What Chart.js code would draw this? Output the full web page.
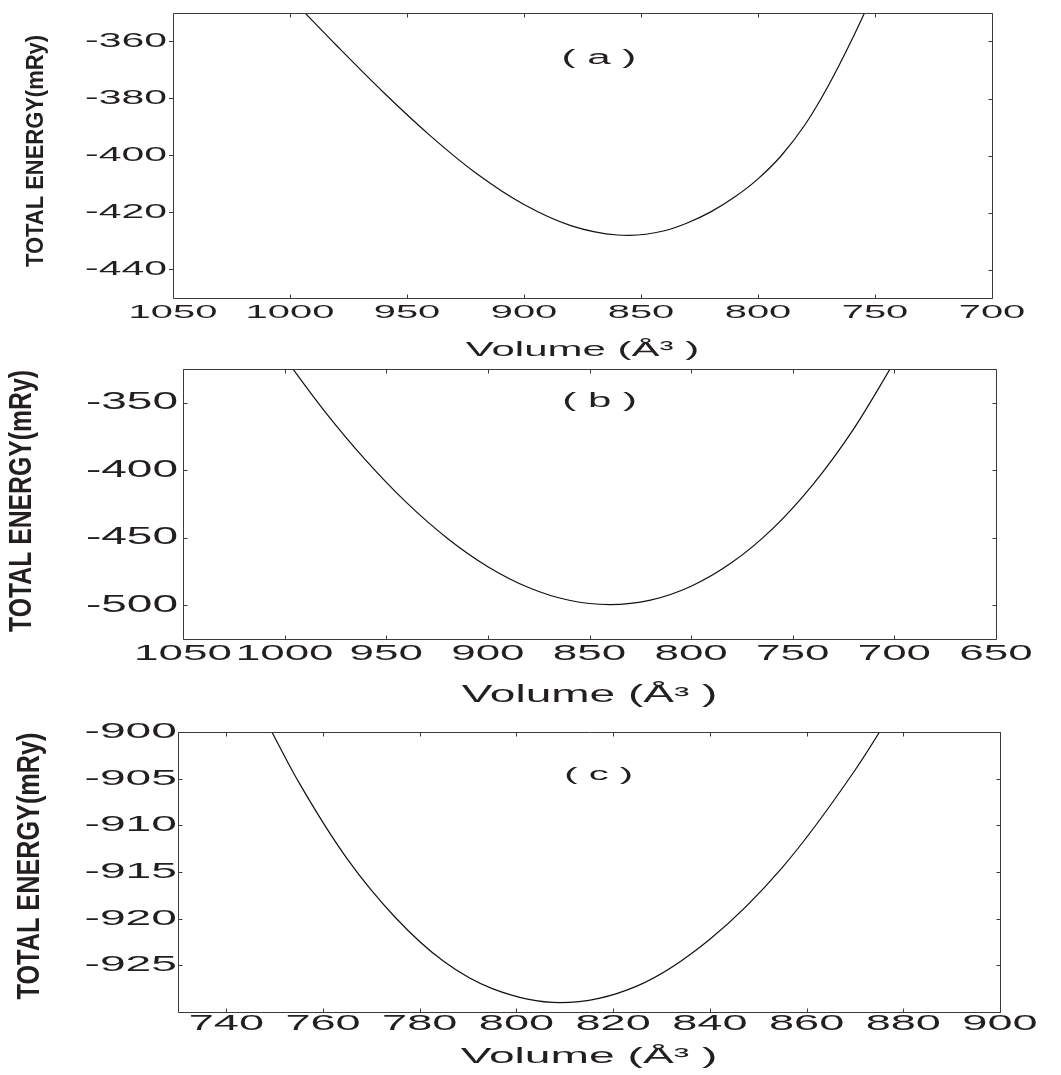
<!DOCTYPE html>
<html>
<head>
<meta charset="utf-8">
<script src="https://cdn.jsdelivr.net/npm/chart.js@4.4.0/dist/chart.umd.min.js"></script>
<style>
  body { margin: 0; background: #fff; }
  #wrap { position: relative; width: 1061px; height: 1075px; }
  #wrap canvas { position: absolute; left: 0; top: 0; }
</style>
</head>
<body>
<div id="wrap">
  <canvas id="chartA" width="1061" height="1075"></canvas>
  <canvas id="chartB" width="1061" height="1075"></canvas>
  <canvas id="chartC" width="1061" height="1075"></canvas>
</div>
<script>
// panel (a)
var volA = [995, 980, 960, 940, 920, 900, 880, 860, 855, 840, 830, 820, 810, 800, 790, 780, 770, 760, 750];
var energyA = [-348.8, -361.5, -377.9, -393.1, -406.5, -417.2, -424.6, -427.9, -428.0, -426.4, -423.6, -419.7, -414.6, -408.2, -400.0, -389.3, -375.6, -359.6, -342.0];
var xTicksA = [1050, 1000, 950, 900, 850, 800, 750, 700];
var yTicksA = [-360, -380, -400, -420, -440];

// panel (b)
var volB = [1000, 980, 960, 940, 920, 900, 880, 860, 840, 820, 800, 780, 760, 740, 720, 700];
var energyB = [-316.7, -356.9, -392.7, -424.0, -450.3, -471.4, -486.8, -496.3, -499.5, -496.2, -485.9, -468.4, -443.4, -410.4, -369.3, -319.7];
var xTicksB = [1050, 1000, 950, 900, 850, 800, 750, 700, 650];
var yTicksB = [-350, -400, -450, -500];

// panel (c)
var volC = [748, 755, 765, 775, 785, 795, 809, 825, 840, 855, 870, 880];
var energyC = [-898.6, -905.4, -913.6, -919.9, -924.6, -927.5, -929.0, -927.2, -922.2, -914.5, -904.1, -895.9];
var xTicksC = [740, 760, 780, 800, 820, 840, 860, 880, 900];
var yTicksC = [-900, -905, -910, -915, -920, -925];

var yTitle = 'TOTAL ENERGY(mRy)';
var xTitle = 'Volume (Å³ )';

var W = 1061, H = 1075;
var INK = '#231f20';
var FONT = "'Liberation Sans', Arial, sans-serif";

// the figure's lettering is drawn wide, so text is stretched sideways
function widenText(ctx, stretch) {
    var fill = ctx.fillText.bind(ctx);
    var measure = ctx.measureText.bind(ctx);
    ctx.stretch = stretch;
    ctx.fillText = function (text, x, y) {
        ctx.save();
        ctx.translate(x, y);
        ctx.scale(ctx.stretch, 1);
        fill(text, 0, 0);
        ctx.restore();
    };
    ctx.measureText = function (text) {
        var m = measure(text);
        return {
            width: m.width * ctx.stretch,
            actualBoundingBoxAscent: m.actualBoundingBoxAscent,
            actualBoundingBoxDescent: m.actualBoundingBoxDescent
        };
    };
}

var frame = {
    id: 'frame',
    afterDraw: function (chart, args, opts) {
        var a = chart.chartArea, ctx = chart.ctx;
        var xs = chart.scales.x, ys = chart.scales.y, t = opts.tick;
        var l = Math.round(a.left) + 0.5, r = Math.round(a.right) + 0.5;
        var top = Math.round(a.top) + 0.5, bot = Math.round(a.bottom) + 0.5;
        ctx.save();
        ctx.strokeStyle = opts.color;
        ctx.lineWidth = 1;
        ctx.beginPath();
        ctx.rect(l, top, r - l, bot - top);
        xs.ticks.forEach(function (tk) {
            var px = Math.round(xs.getPixelForValue(tk.value)) + 0.5;
            ctx.moveTo(px, bot); ctx.lineTo(px, bot - t);
            ctx.moveTo(px, top); ctx.lineTo(px, top + t);
        });
        ys.ticks.forEach(function (tk) {
            var py = Math.round(ys.getPixelForValue(tk.value)) + 0.5;
            ctx.moveTo(r, py); ctx.lineTo(r - t, py);
            if (opts.leftIn) { ctx.moveTo(l, py); ctx.lineTo(l + t, py); }
        });
        ctx.stroke();
        ctx.restore();
    }
};

var sideTitle = {
    id: 'sideTitle',
    afterDraw: function (chart, args, opts) {
        var ctx = chart.ctx;
        var keep = ctx.stretch;
        ctx.save();
        ctx.font = opts.font;
        ctx.fillStyle = INK;
        ctx.textAlign = 'center';
        ctx.textBaseline = 'middle';
        ctx.stretch = 1;
        var natural = ctx.measureText(opts.text).width;
        ctx.stretch = opts.length / natural;
        ctx.translate(opts.x, opts.y);
        ctx.rotate(-Math.PI / 2);
        ctx.fillText(opts.text, 0, 0);
        ctx.restore();
        ctx.stretch = keep;
    }
};

var panelTag = {
    id: 'panelTag',
    afterDraw: function (chart, args, opts) {
        var ctx = chart.ctx;
        ctx.save();
        ctx.font = opts.font;
        ctx.fillStyle = INK;
        ctx.textAlign = 'center';
        ctx.textBaseline = 'middle';
        ctx.fillText(opts.text, chart.scales.x.getPixelForValue(opts.at[0]), chart.scales.y.getPixelForValue(opts.at[1]));
        ctx.restore();
    }
};

function panel(id, p) {
    var ctx = document.getElementById(id).getContext('2d');
    widenText(ctx, p.stretch);
    var xBottom = p.xTitleY + p.xTitleSize / 2;
    var pts = p.vol.map(function (v, i) { return { x: v, y: p.energy[i] }; });
    return new Chart(ctx, {
        type: 'line',
        data: {
            datasets: [{
                data: pts,
                borderColor: '#111',
                borderWidth: 1.2,
                pointRadius: 0,
                fill: false,
                cubicInterpolationMode: 'monotone'
            }]
        },
        options: {
            responsive: false,
            animation: false,
            devicePixelRatio: 1,
            layout: { padding: { left: 0, top: p.box.top, right: W - p.box.right, bottom: H - xBottom } },
            plugins: {
                legend: { display: false },
                tooltip: { enabled: false },
                frame: { color: '#3a3a3a', tick: 4, leftIn: p.leftIn },
                sideTitle: { text: yTitle, font: 'bold ' + p.yTitleSize + 'px ' + FONT, x: p.yTitleX, y: p.yTitleCenter, length: p.yTitleLen },
                panelTag: { text: p.tag, font: p.tagSize + 'px ' + FONT, at: p.tagAt }
            },
            scales: {
                x: {
                    type: 'linear',
                    min: p.xMin, max: p.xMax, reverse: p.reverse,
                    afterBuildTicks: function (s) { s.ticks = p.xTicks.map(function (v) { return { value: v }; }); },
                    afterFit: function (s) { s.height = xBottom - p.box.bottom; },
                    grid: { display: false, drawTicks: false },
                    border: { display: false },
                    ticks: {
                        autoSkip: false, maxRotation: 0, minRotation: 0,
                        padding: p.xPad, color: INK,
                        font: { family: FONT, size: p.xTickSize, lineHeight: 1 },
                        callback: function (v) { return String(v); }
                    },
                    title: {
                        display: true, text: xTitle, color: INK, padding: 0,
                        font: { family: FONT, size: p.xTitleSize, lineHeight: 1 }
                    }
                },
                y: {
                    type: 'linear',
                    min: p.yMin, max: p.yMax,
                    afterBuildTicks: function (s) { s.ticks = p.yTicks.map(function (v) { return { value: v }; }); },
                    afterFit: function (s) { s.width = p.box.left; },
                    grid: p.leftIn ? { display: false, drawTicks: false }
                        : { display: true, drawOnChartArea: false, drawTicks: true, tickLength: 4, color: '#3a3a3a' },
                    border: { display: false },
                    ticks: {
                        padding: p.yPad, color: INK,
                        font: { family: FONT, size: p.yTickSize, lineHeight: 1 },
                        callback: function (v) { return String(v); }
                    }
                }
            }
        },
        plugins: [frame, sideTitle, panelTag]
    });
}

panel('chartA', {
    vol: volA, energy: energyA, xTicks: xTicksA, yTicks: yTicksA,
    xMin: 700, xMax: 1050, reverse: true, yMin: -450, yMax: -350,
    box: { left: 173, top: 13, right: 992, bottom: 298 },
    stretch: 2.1, leftIn: false,
    xTickSize: 19, xPad: 5, yTickSize: 19.5, yPad: 2,
    xTitleSize: 20, xTitleY: 350,
    yTitleSize: 24, yTitleX: 36, yTitleCenter: 151, yTitleLen: 232,
    tag: '( a )', tagSize: 20, tagAt: [868, -366]
});

panel('chartB', {
    vol: volB, energy: energyB, xTicks: xTicksB, yTicks: yTicksB,
    xMin: 650, xMax: 1050, reverse: true, yMin: -525, yMax: -325,
    box: { left: 183, top: 369, right: 996, bottom: 639 },
    stretch: 2.0, leftIn: true,
    xTickSize: 22, xPad: 4, yTickSize: 23, yPad: 5,
    xTitleSize: 23, xTitleY: 696,
    yTitleSize: 31, yTitleX: 22, yTitleCenter: 501, yTitleLen: 262,
    tag: '( b )', tagSize: 21, tagAt: [845, -349]
});

panel('chartC', {
    vol: volC, energy: energyC, xTicks: xTicksC, yTicks: yTicksC,
    xMin: 730, xMax: 900, reverse: false, yMin: -930, yMax: -900,
    box: { left: 178, top: 732, right: 1000, bottom: 1012 },
    stretch: 2.1, leftIn: true,
    xTickSize: 21.5, xPad: 1, yTickSize: 22, yPad: 1,
    xTitleSize: 22, xTitleY: 1057,
    yTitleSize: 32, yTitleX: 30, yTitleCenter: 866, yTitleLen: 267,
    tag: '( c )', tagSize: 19, tagAt: [817, -904.6]
});
</script>
</body>
</html>
